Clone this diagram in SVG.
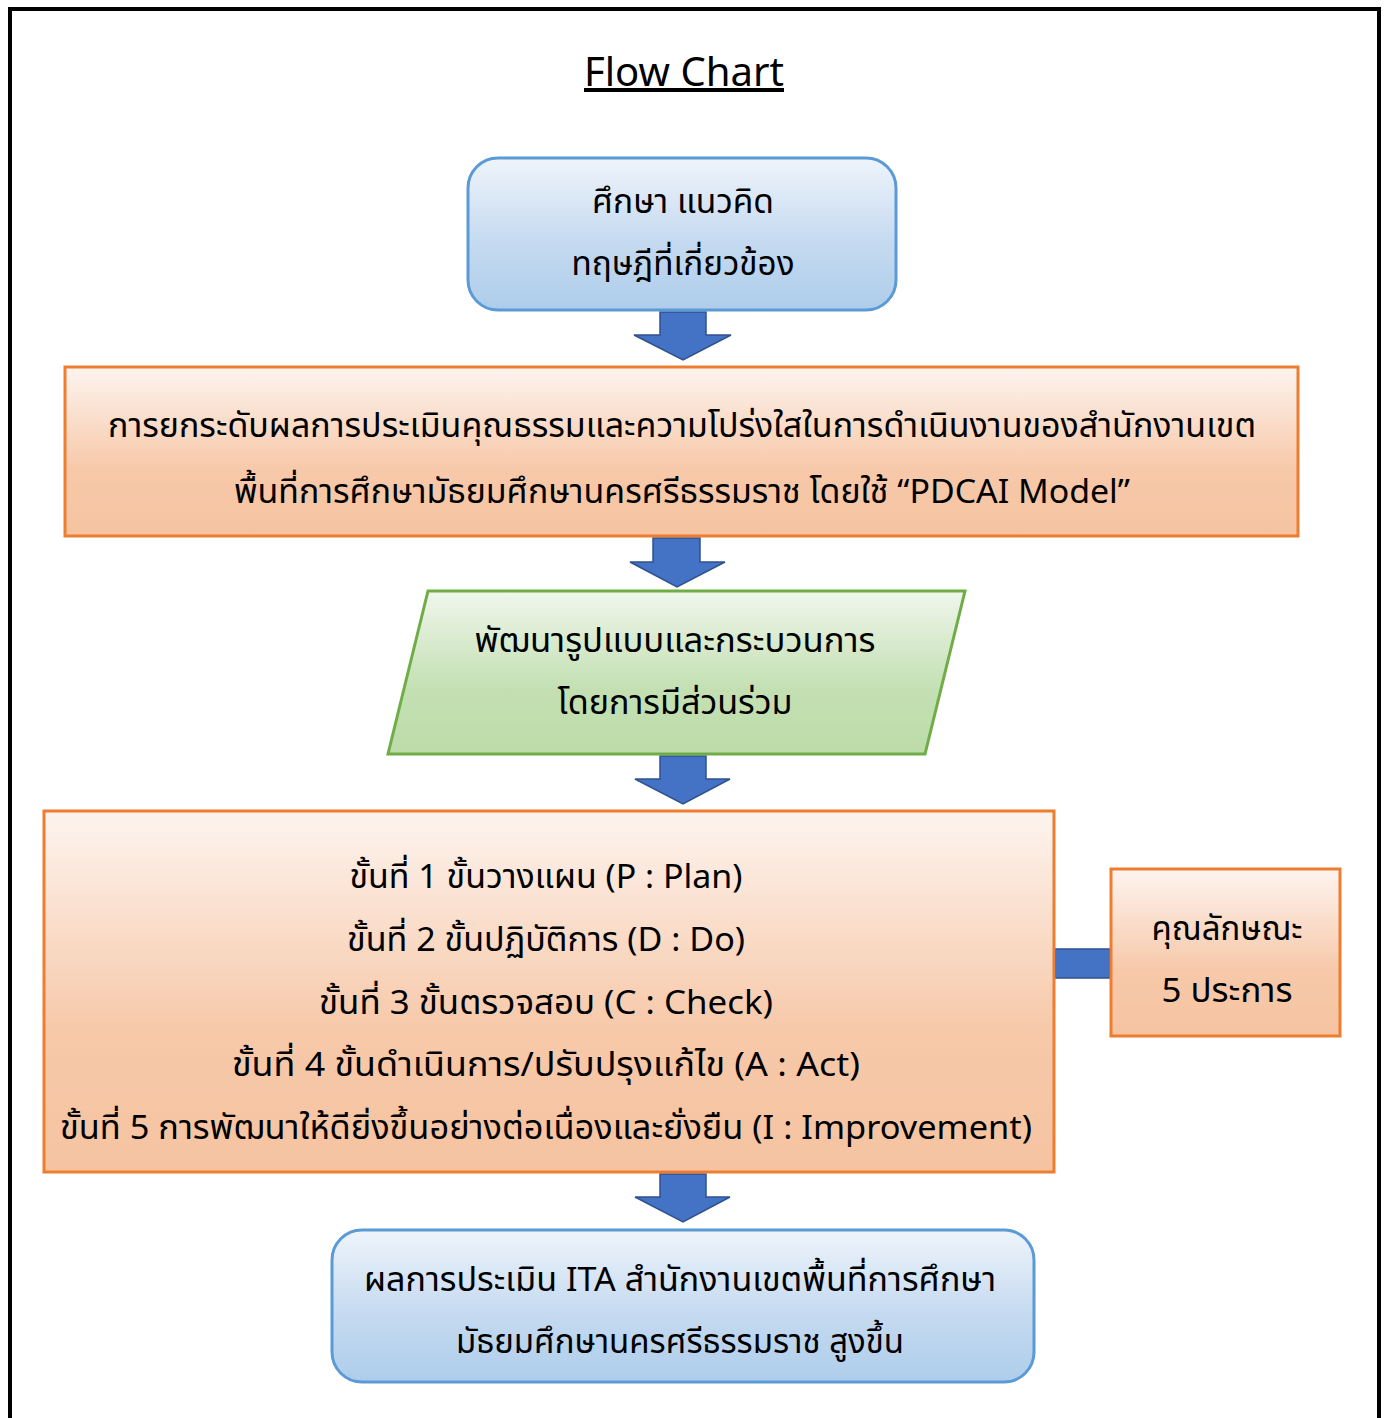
<svg xmlns="http://www.w3.org/2000/svg" width="1386" height="1418" viewBox="0 0 1386 1418">
<defs>
<linearGradient id="gBlue" x1="0" y1="0" x2="0" y2="1"><stop offset="0" stop-color="#EEF4FB"/><stop offset="0.55" stop-color="#C5DAF0"/><stop offset="1" stop-color="#AECDEB"/></linearGradient>
<linearGradient id="gOrange" x1="0" y1="0" x2="0" y2="1"><stop offset="0" stop-color="#FDF4EF"/><stop offset="0.6" stop-color="#F7C9AA"/><stop offset="1" stop-color="#F5C3A0"/></linearGradient>
<linearGradient id="gGreen" x1="0" y1="0" x2="0" y2="1"><stop offset="0" stop-color="#F0F6EC"/><stop offset="0.6" stop-color="#C4E0B3"/><stop offset="1" stop-color="#BCDCA9"/></linearGradient>
<style>
.t{font-family:"Noto Sans","Noto Sans Thai",Tahoma,sans-serif;font-size:33px;fill:#000;text-anchor:middle}
.blue{fill:url(#gBlue);stroke:#5B9BD5;stroke-width:3}
.orange{fill:url(#gOrange);stroke:#ED7D31;stroke-width:3}
.green{fill:url(#gGreen);stroke:#70AD47;stroke-width:3}
.arr{fill:#4472C4;stroke:#2F528F;stroke-width:1.5}
</style>
</defs>
<rect width="1386" height="1418" fill="#fff"/>
<path d="M10,1418 V9 H1379 V1418" fill="none" stroke="#000" stroke-width="4"/>
<g id="title">
<text class="t" x="684" y="86" style="font-size:40px;text-decoration:underline" textLength="200" lengthAdjust="spacingAndGlyphs">Flow Chart</text>
</g>
<g id="connectors">
<path class="arr" d="M660,312 H706 V335 H731 L683,360 L634,335 H660 Z"/>
<path class="arr" d="M653,538 H700 V562 H725 L677,587 L630,562 H653 Z"/>
<path class="arr" d="M660,756 H706 V779 H730 L683,804 L635,779 H660 Z"/>
<path class="arr" d="M660,1174 H706 V1197 H730 L683,1222 L635,1197 H660 Z"/>
<rect class="arr" x="1055" y="949" width="55" height="29"/>
</g>
<g id="node1">
<rect class="blue" x="468" y="158" width="428" height="152" rx="30"/>
<text class="t" x="683" y="213" textLength="182" lengthAdjust="spacingAndGlyphs">ศึกษา แนวคิด</text>
<text class="t" x="683" y="275" textLength="223" lengthAdjust="spacingAndGlyphs">ทฤษฎีที่เกี่ยวข้อง</text>
</g>
<g id="node2">
<rect class="orange" x="65" y="367" width="1233" height="169"/>
<text class="t" x="682" y="437" textLength="1148" lengthAdjust="spacingAndGlyphs">การยกระดับผลการประเมินคุณธรรมและความโปร่งใสในการดำเนินงานของสำนักงานเขต</text>
<text class="t" x="682" y="503" textLength="896" lengthAdjust="spacingAndGlyphs">พื้นที่การศึกษามัธยมศึกษานครศรีธรรมราช โดยใช้ “PDCAI Model”</text>
</g>
<g id="node3">
<polygon class="green" points="428,591 965,591 925,754 388,754"/>
<text class="t" x="675" y="652" textLength="401" lengthAdjust="spacingAndGlyphs">พัฒนารูปแบบและกระบวนการ</text>
<text class="t" x="675" y="714" textLength="235" lengthAdjust="spacingAndGlyphs">โดยการมีส่วนร่วม</text>
</g>
<g id="node4">
<rect class="orange" x="44" y="811" width="1010" height="361"/>
<text class="t" x="546" y="888" textLength="393" lengthAdjust="spacingAndGlyphs">ขั้นที่ 1 ขั้นวางแผน (P : Plan)</text>
<text class="t" x="546" y="951" textLength="398" lengthAdjust="spacingAndGlyphs">ขั้นที่ 2 ขั้นปฏิบัติการ (D : Do)</text>
<text class="t" x="546" y="1014" textLength="454" lengthAdjust="spacingAndGlyphs">ขั้นที่ 3 ขั้นตรวจสอบ (C : Check)</text>
<text class="t" x="546" y="1076" textLength="628" lengthAdjust="spacingAndGlyphs">ขั้นที่ 4 ขั้นดำเนินการ/ปรับปรุงแก้ไข  (A : Act)</text>
<text class="t" x="546" y="1139" textLength="972" lengthAdjust="spacingAndGlyphs">ขั้นที่ 5 การพัฒนาให้ดียิ่งขึ้นอย่างต่อเนื่องและยั่งยืน  (I : Improvement)</text>
</g>
<g id="node5">
<rect class="orange" x="1111" y="869" width="229" height="167"/>
<text class="t" x="1227" y="940" textLength="151" lengthAdjust="spacingAndGlyphs">คุณลักษณะ</text>
<text class="t" x="1227" y="1002" textLength="131" lengthAdjust="spacingAndGlyphs">5 ประการ</text>
</g>
<g id="node6">
<rect class="blue" x="332" y="1230" width="702" height="152" rx="30"/>
<text class="t" x="680" y="1291" textLength="632" lengthAdjust="spacingAndGlyphs">ผลการประเมิน ITA สำนักงานเขตพื้นที่การศึกษา</text>
<text class="t" x="680" y="1353" textLength="448" lengthAdjust="spacingAndGlyphs">มัธยมศึกษานครศรีธรรมราช สูงขึ้น</text>
</g>
</svg>
